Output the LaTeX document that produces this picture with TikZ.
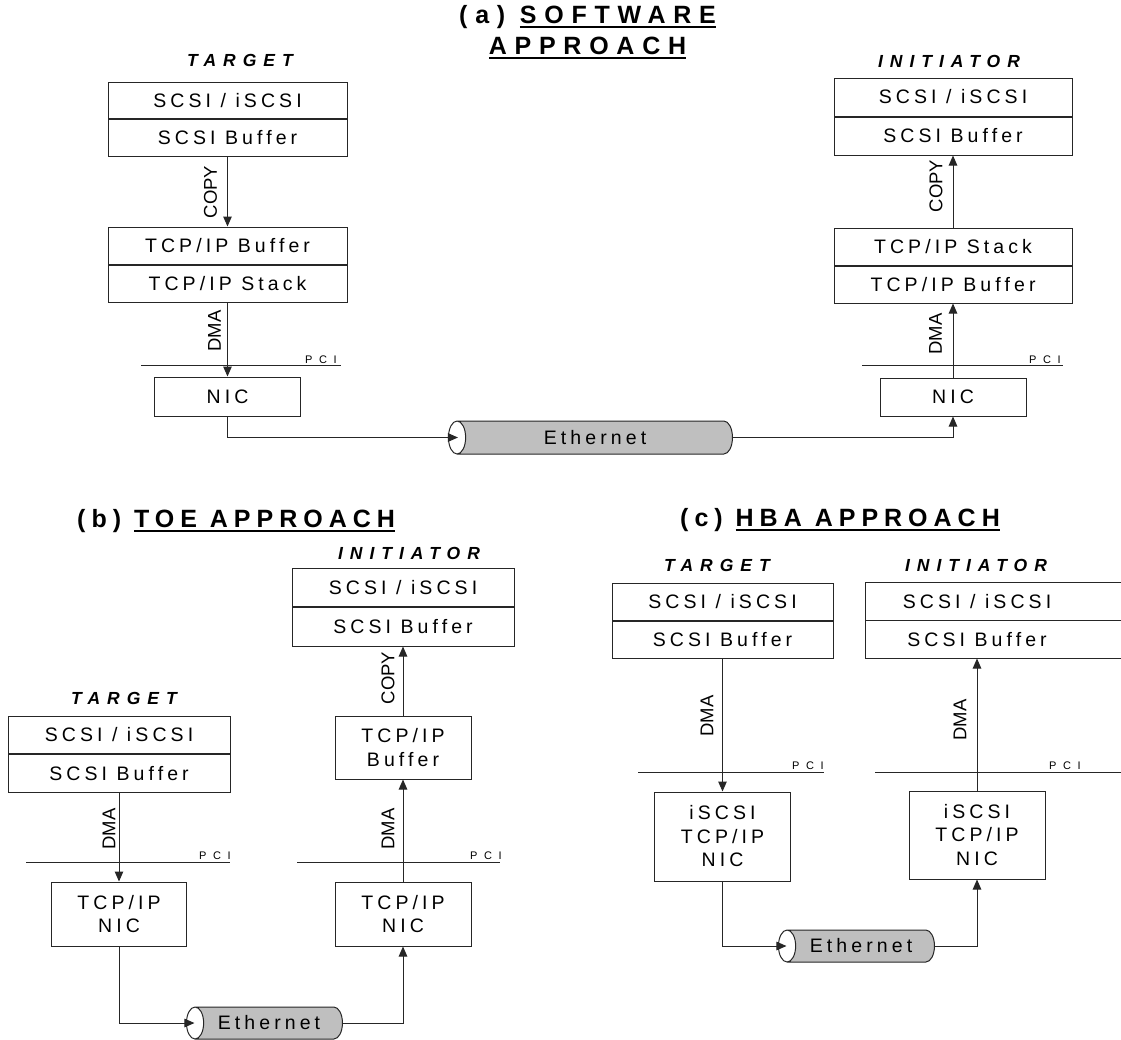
\documentclass[tikz,border=0pt]{standalone}
\usepackage{fontspec}
\setmainfont{Liberation Sans}
\newfontfamily\layerfont[LetterSpace=21]{Liberation Sans}
\newfontfamily\headfont[LetterSpace=24]{Liberation Sans}
\newfontfamily\headfontwide[LetterSpace=31]{Liberation Sans}
\newfontfamily\sidefont[LetterSpace=40]{Liberation Sans}
\newfontfamily\pcifont[LetterSpace=60]{Liberation Sans}
\usetikzlibrary{arrows.meta,positioning,shapes.geometric}
\newcommand\ulin[1]{\setbox0\hbox{#1}\rlap{\rule[-4.5pt]{\wd0}{2pt}}\box0}

\tikzset{
  layer/.style={draw=black!85, line width=1pt, inner sep=0pt, align=center,
    font=\layerfont\fontsize{19.5}{23.5}\selectfont},
  headline/.style={inner sep=0pt, font=\headfont\bfseries\fontsize{25}{30}\selectfont},
  side/.style={font=\sidefont\bfseries\itshape\fontsize{17.5}{19}\selectfont},
  via/.style={rotate=90, inner sep=0pt, font=\fontsize{18.5}{20}\selectfont},
  pcitag/.style={anchor=base, inner sep=0pt, font=\pcifont\fontsize{11}{12}\selectfont},
  bus/.style={draw=black!85, line width=1pt},
  flow/.style={draw=black!85, line width=1pt, -{Triangle[length=10pt,width=8.5pt]}},
  ether/.style={cylinder, shape border rotate=180, aspect=1.2, draw=black!85, line width=1pt,
    cylinder uses custom fill, cylinder body fill=gray!50, cylinder end fill=white,
    inner sep=0pt, font=\layerfont\fontsize{19.5}{22}\selectfont},
}

\begin{document}
\begin{tikzpicture}[x=1pt, y=-1pt]
  \useasboundingbox (0,0) rectangle (1121,1039);

  % (a) ソフトウェア方式
  \node[headline, font=\headfontwide\bfseries\fontsize{25}{30}\selectfont, anchor=base] (headA1) at (587.5,23) {(a) \ulin{SOFTWARE}};
  \node[headline, font=\headfontwide\bfseries\fontsize{25}{30}\selectfont, anchor=base] (headA2) at (587.5,54) {\ulin{APPROACH}};
  \node[side] (tgtA) at (240,60) {TARGET};
  \node[side] (iniA) at (949,61) {INITIATOR};

  % ターゲット側
  \node[layer, minimum width=239, minimum height=36.5] (scsiAt) at (227.5,100.25) {SCSI / iSCSI};
  \node[layer, minimum width=239, minimum height=36.5, below=0pt of scsiAt] (bufAt) {SCSI Buffer};
  \node[layer, minimum width=239, minimum height=37] (tcpAt) at (227.5,245.5) {TCP/IP Buffer};
  \node[layer, minimum width=239, minimum height=37, below=0pt of tcpAt] (stkAt) {TCP/IP Stack};
  \node[layer, minimum width=146, minimum height=39] (nicAt) at (227.5,396.5) {NIC};
  \draw[bus] (141,365) -- (341,365);
  \node[pcitag] (pciAt) at (321,363) {PCI};
  \draw[flow] (bufAt.south) -- (tcpAt.north);
  \draw[flow] (stkAt.south) -- (nicAt.north);
  \node[via] (copyAt) at (210.5,192) {COPY};
  \node[via] (dmaAt) at (214.5,331) {DMA};

  % イニシエータ側
  \node[layer, minimum width=238, minimum height=38] (scsiAi) at (953,97) {SCSI / iSCSI};
  \node[layer, minimum width=238, minimum height=38, below=0pt of scsiAi] (bufAi) {SCSI Buffer};
  \node[layer, minimum width=238, minimum height=37] (stkAi) at (953,246.5) {TCP/IP Stack};
  \node[layer, minimum width=238, minimum height=37, below=0pt of stkAi] (tcpAi) {TCP/IP Buffer};
  \node[layer, minimum width=146, minimum height=38] (nicAi) at (953,397) {NIC};
  \draw[bus] (862,365) -- (1063,365);
  \node[pcitag] (pciAi) at (1045,363) {PCI};
  \draw[flow] (stkAi.north) -- (bufAi.south);
  \draw[flow] (nicAi.north) -- (tcpAi.south);
  \node[via] (copyAi) at (936,186) {COPY};
  \node[via] (dmaAi) at (935.5,334) {DMA};

  % イーサネット
  \node[ether, minimum height=284, minimum width=33] (ethA) at (595,437.5) {Ethernet};
  \draw[flow] (nicAt.south) |- ([xshift=10pt]ethA.west);
  \draw[flow] (ethA.east) -| (nicAi.south);

  % (b) TOE方式
  \node[headline, anchor=base west] (headB) at (77,527) {(b) \ulin{TOE APPROACH}};
  \node[side] (tgtB) at (124,698) {TARGET};
  \node[side] (iniB) at (409,553) {INITIATOR};

  \node[layer, minimum width=222, minimum height=37.5] (scsiBt) at (119,734.75) {SCSI / iSCSI};
  \node[layer, minimum width=222, minimum height=37.5, below=0pt of scsiBt] (bufBt) {SCSI Buffer};
  \node[layer, minimum width=135, minimum height=64] (nicBt) at (119,914) {TCP/IP\\NIC};
  \draw[bus] (26,862) -- (230,862);
  \node[pcitag] (pciBt) at (215,859) {PCI};
  \draw[flow] (bufBt.south) -- (nicBt.north);
  \node[via] (dmaBt) at (109,829) {DMA};

  \node[layer, minimum width=222, minimum height=38.5] (scsiBi) at (403,587.25) {SCSI / iSCSI};
  \node[layer, minimum width=222, minimum height=38.5, below=0pt of scsiBi] (bufBi) {SCSI Buffer};
  \node[layer, minimum width=136, minimum height=63] (tcpBi) at (403,747.5) {TCP/IP\\Buffer};
  \node[layer, minimum width=136, minimum height=64] (nicBi) at (403,914) {TCP/IP\\NIC};
  \draw[bus] (297,862) -- (500,862);
  \node[pcitag] (pciBi) at (486,859) {PCI};
  \draw[flow] (tcpBi.north) -- (bufBi.south);
  \draw[flow] (nicBi.north) -- (tcpBi.south);
  \node[via] (copyBi) at (388,678) {COPY};
  \node[via] (dmaBi) at (388,829) {DMA};

  \node[ether, minimum height=156, minimum width=32] (ethB) at (269,1023) {Ethernet};
  \draw[flow] (nicBt.south) |- ([xshift=8.5pt]ethB.west);
  \draw[flow] (ethB.east) -| (nicBi.south);

  % (c) HBA方式
  \node[headline, anchor=base west] (headC) at (680,526) {(c) \ulin{HBA APPROACH}};
  \node[side] (tgtC) at (717,565) {TARGET};
  \node[side] (iniC) at (976,565) {INITIATOR};

  \node[layer, minimum width=221, minimum height=37] (scsiCt) at (722.5,601.5) {SCSI / iSCSI};
  \node[layer, minimum width=221, minimum height=37, below=0pt of scsiCt] (bufCt) {SCSI Buffer};
  \node[layer, minimum width=136, minimum height=89] (nicCt) at (722.5,836.5) {iSCSI\\TCP/IP\\NIC};
  \draw[bus] (638,772) -- (824,772);
  \node[pcitag] (pciCt) at (808,769) {PCI};
  \draw[flow] (bufCt.south) -- (nicCt.north);
  \node[via] (dmaCt) at (707,716) {DMA};

  % 右端で切れている枠
  \node[layer, draw=none, minimum width=222, minimum height=37] (scsiCi) at (977,601.5) {SCSI / iSCSI};
  \node[layer, draw=none, minimum width=222, minimum height=37, below=0pt of scsiCi] (bufCi) {SCSI Buffer};
  \draw[bus] ([xshift=260pt]scsiCi.north west) -- (scsiCi.north west) -- (bufCi.south west) -- ++(260,0);
  \draw[bus] (scsiCi.south west) -- ++(260,0);
  \node[layer, minimum width=136, minimum height=88] (nicCi) at (977,835) {iSCSI\\TCP/IP\\NIC};
  \draw[bus] (875,772) -- (1121,772);
  \node[pcitag] (pciCi) at (1065,769) {PCI};
  \draw[flow] (nicCi.north) -- (bufCi.south);
  \node[via] (dmaCi) at (960,720) {DMA};

  \node[ether, minimum height=156, minimum width=32] (ethC) at (861,946) {Ethernet};
  \draw[flow] (nicCt.south) |- ([xshift=8.5pt]ethC.west);
  \draw[flow] (ethC.east) -| (nicCi.south);
\end{tikzpicture}
\end{document}
